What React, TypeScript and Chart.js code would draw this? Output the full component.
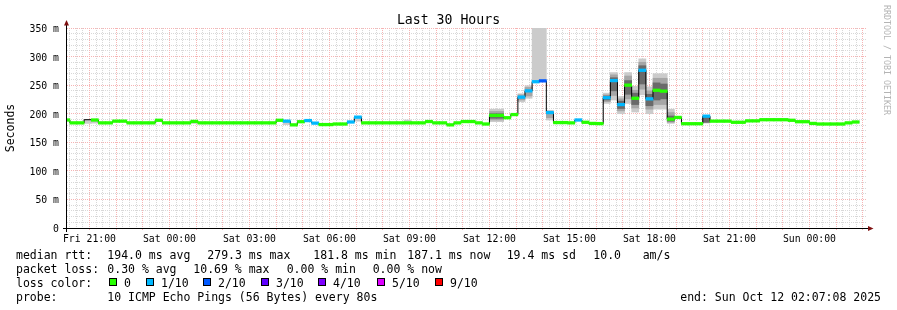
import React, { useEffect, useRef } from 'react';
import { Chart, registerables } from 'chart.js';

Chart.register(...registerables);

// ---------------- data ----------------
const chartTitle = 'Last 30 Hours';
const yAxisTitle = 'Seconds';
const watermark = 'RRDTOOL / TOBI OETIKER';

// x axis: minutes relative to Fri 21:00
const X_MIN = -50.5;
const X_MAX = 1749.5;
const BIN_MINUTES = 16;
const FIRST_BIN_START = -60;

const xTickLabels = ['Fri 21:00', 'Sat 00:00', 'Sat 03:00', 'Sat 06:00', 'Sat 09:00', 'Sat 12:00', 'Sat 15:00', 'Sat 18:00', 'Sat 21:00', 'Sun 00:00'];
const yTickValues = [0, 50, 100, 150, 200, 250, 300, 350];
const yTickLabels = ['0', '50 m', '100 m', '150 m', '200 m', '250 m', '300 m', '350 m'];

// median RTT (ms) per 16-minute bin
const medianRtt: (number | null)[] = [
  189, 184, 184, 189.5, 189, 184, 184, 187, 187, 184,
  184, 184, 184, 188.5, 184, 184, 184, 184, 186.5, 184,
  184, 184, 184, 184, 184, 184, 184, 184, 184, 184,
  188.5, 187, 180.5, 186, 188, 183.5, 181, 181, 182, 182,
  185.5, 194, 184, 184, 184, 184, 184, 184, 184, 184,
  184, 186.3, 184, 184, 180.5, 184, 186.3, 186.3, 184, 182,
  197, 197, 193, 198.5, 229, 240, 256, 257.5, 202, 184.5,
  184.5, 184, 189, 185, 183, 182.7, 228, 258, 216, 250,
  227, 276, 226, 241, 239.5, 190.5, 193.5, 182.5, 182.5, 182.5,
  195.7, 187, 187, 187, 185, 185, 187.5, 187.5, 189.5, 189.5,
  189.5, 189.5, 188.5, 186, 186, 183, 182, 182, 182, 182,
  184, 185.5, null, null,
];

// loss level per bin (index into lossColors), null = no colour band
const lossLevel: (number | null)[] = [
  0, 0, 0, null, 0, 0, 0, 0, 0, 0,
  0, 0, 0, 0, 0, 0, 0, 0, 0, 0,
  0, 0, 0, 0, 0, 0, 0, 0, 0, 0,
  0, 1, 0, 0, 1, 1, 0, 0, 0, 0,
  1, 1, 0, 0, 0, 0, 0, 0, 0, 0,
  0, 0, 0, 0, 0, 0, 0, 0, 0, 0,
  0, 0, 0, 0, 1, 1, 1, 2, 1, 0,
  0, 0, 1, 0, 0, 0, 1, 1, 1, 0,
  0, 1, 1, 0, 0, 0, 0, 0, 0, 0,
  1, 0, 0, 0, 0, 0, 0, 0, 0, 0,
  0, 0, 0, 0, 0, 0, 0, 0, 0, 0,
  0, 0, null, null,
];

const lossColors = ['#26ff00', '#00b8ff', '#0059ff', '#5e00ff', '#7e00ff', '#dd00ff', '#ff0000'];
const lossLabels = ['0', '1/10', '2/10', '3/10', '4/10', '5/10', '9/10'];

// smoke (ping spread), outer / middle / inner layers
const smokeOuterBins = [3, 4, 18, 31, 41, 48, 60, 61, 64, 65, 66, 67, 68, 76, 77, 78, 79, 80, 81, 82, 83, 84, 85, 90];
const smokeOuterLo = [183, 183.5, 183, 181, 187, 184, 186, 186, 221, 227, 256, 256, 189, 218, 224, 200, 218, 203, 233, 200, 208, 208, 183, 184];
const smokeOuterHi = [189.5, 189, 187, 187, 194, 189, 208, 208, 235, 249, 400, 400, 206, 236, 272, 230, 272, 248, 296, 247, 270, 270, 208, 195];

const smokeMidBins = [60, 61, 64, 65, 68, 76, 77, 78, 79, 80, 81, 82, 83, 84, 85, 90];
const smokeMidLo = [189, 189, 224, 231, 193, 221, 232, 205, 226, 210, 243, 208, 216, 216, 185, 184];
const smokeMidHi = [204, 204, 233, 246, 204, 233, 268, 226, 266, 241, 290, 240, 262, 262, 202, 195];

const smokeInnerBins = [60, 61, 76, 77, 78, 79, 80, 81, 82, 83, 84, 85, 90];
const smokeInnerLo = [192, 192, 224, 240, 209, 234, 216, 252, 214, 224, 226, 187, 185];
const smokeInnerHi = [200, 200, 231, 263, 222, 258, 236, 284, 234, 254, 252, 196, 194];

// legend texts
const rttStats = ['median rtt:', '194.0 ms avg', '279.3 ms max', '181.8 ms min', '187.1 ms now', '19.4 ms sd', '10.0', 'am/s'];
const lossStats = ['packet loss:', '0.30 % avg', '10.69 % max', '0.00 % min', '0.00 % now'];
const lossColorTitle = 'loss color:';
const probeInfo = ['probe:', '10 ICMP Echo Pings (56 Bytes) every 80s'];
const endInfo = 'end: Sun Oct 12 02:07:08 2025';

// ---------------- style / layout ----------------
const W = 897;
const H = 310;
const FONT = "'DejaVu Sans Mono', monospace";
const MAJOR = '#f6b4b4';
const MINOR = '#d8d8d8';
const ARROW = '#7f1010';
const BAND_HALF = 2.3; // half height of median band in ms
const rttX = [16, 107.3, 207.3, 313.3, 407.3, 506.7, 593.3, 642.7];
const lossX = [16, 107.3, 193.3, 286.7, 372.7];
const swatchX = [109, 146, 203, 261, 318, 377, 435];
const rowY = [258.5, 272.5, 286.5, 300.5];

const hourTicks: number[] = [];
for (let v = 0; v <= X_MAX; v += 60) hourTicks.push(v);
const quarterTicks: number[] = [];
for (let v = -45; v <= X_MAX; v += 15) quarterTicks.push(v);
const minorYTicks: number[] = [];
for (let v = 0; v <= 350; v += 10) minorYTicks.push(v);

const binStart = (i: number) => FIRST_BIN_START + i * BIN_MINUTES;
const binCenter = (i: number) => binStart(i) + BIN_MINUTES / 2;

const decorPlugin = {
  id: 'rrdDecor',
  afterDraw(chart: any) {
    const ctx = chart.ctx as CanvasRenderingContext2D;
    const a = chart.chartArea;
    ctx.save();
    ctx.setLineDash([]);
    // axes
    ctx.strokeStyle = '#000';
    ctx.lineWidth = 1;
    ctx.beginPath();
    ctx.moveTo(a.left - 4, a.bottom + 0.5);
    ctx.lineTo(a.right + 1, a.bottom + 0.5);
    ctx.moveTo(a.left - 0.5, a.bottom + 4);
    ctx.lineTo(a.left - 0.5, a.top - 3);
    ctx.stroke();
    // arrows
    ctx.fillStyle = ARROW;
    ctx.beginPath();
    ctx.moveTo(a.left - 3, a.top - 2.5);
    ctx.lineTo(a.left + 2, a.top - 2.5);
    ctx.lineTo(a.left - 0.5, a.top - 8);
    ctx.closePath();
    ctx.fill();
    ctx.beginPath();
    ctx.moveTo(a.right + 1, a.bottom - 2);
    ctx.lineTo(a.right + 1, a.bottom + 3);
    ctx.lineTo(a.right + 6.5, a.bottom + 0.5);
    ctx.closePath();
    ctx.fill();

    // title
    ctx.fillStyle = '#000';
    ctx.textBaseline = 'alphabetic';
    ctx.font = `13.2px ${FONT}`;
    ctx.textAlign = 'center';
    ctx.fillText(chartTitle, W / 2, 24);

    // watermark
    ctx.save();
    ctx.translate(884, 5);
    ctx.rotate(Math.PI / 2);
    ctx.font = `8.3px ${FONT}`;
    ctx.fillStyle = '#b4b4b4';
    ctx.textAlign = 'left';
    ctx.textBaseline = 'alphabetic';
    ctx.fillText(watermark, 0, 0);
    ctx.restore();

    // legend
    ctx.font = `11.5px ${FONT}`;
    ctx.textAlign = 'left';
    ctx.fillStyle = '#000';
    rttStats.forEach((t, k) => ctx.fillText(t, rttX[k], rowY[0]));
    lossStats.forEach((t, k) => ctx.fillText(t, lossX[k], rowY[1]));
    ctx.fillText(lossColorTitle, 16, rowY[2]);
    lossLabels.forEach((t, k) => {
      const x = swatchX[k];
      ctx.fillStyle = lossColors[k];
      ctx.fillRect(x, rowY[2] - 8.5, 8, 8);
      ctx.strokeStyle = '#000';
      ctx.strokeRect(x + 0.5, rowY[2] - 8, 7, 7);
      ctx.fillStyle = '#000';
      ctx.fillText(t, x + 15, rowY[2]);
    });
    ctx.fillText(probeInfo[0], 16, rowY[3]);
    ctx.fillText(probeInfo[1], 107.3, rowY[3]);
    ctx.textAlign = 'right';
    ctx.fillText(endInfo, 881, rowY[3]);
    ctx.restore();
  },
};

export default function App() {
  const ref = useRef<HTMLCanvasElement>(null);

  useEffect(() => {
    const canvas = ref.current;
    if (!canvas) return;

    const floatBars = (bins: number[], lo: number[], hi: number[]) =>
      bins.map((b, k) => ({ x: binCenter(b), y: [lo[k], hi[k]] }));

    const bandData: any[] = [];
    const bandColors: string[] = [];
    medianRtt.forEach((m, i) => {
      if (m == null) return;
      bandData.push({ x: binCenter(i), y: [m - BAND_HALF, m + BAND_HALF] });
      const l = lossLevel[i];
      bandColors.push(l == null ? 'rgba(0,0,0,0)' : lossColors[l]);
    });

    const lineData: any[] = [];
    medianRtt.forEach((m, i) => {
      if (m == null) return;
      lineData.push({ x: binStart(i), y: m });
      if (i + 1 >= medianRtt.length || medianRtt[i + 1] == null) {
        lineData.push({ x: binStart(i + 1), y: m });
        lineData.push({ x: binStart(i + 1), y: null });
      }
    });

    const barCommon = {
      type: 'bar' as const,
      grouped: false,
      barPercentage: 1,
      categoryPercentage: 1,
      borderWidth: 0,
      clip: 0,
      xAxisID: 'x',
      yAxisID: 'y',
    };

    const chart = new Chart(canvas, {
      type: 'bar',
      data: {
        datasets: [
          { ...barCommon, label: 'median', data: bandData, backgroundColor: bandColors, order: 0 },
          {
            type: 'line',
            label: 'median line',
            data: lineData,
            stepped: true,
            borderColor: '#000',
            borderWidth: 1,
            pointRadius: 0,
            fill: false,
            spanGaps: false,
            xAxisID: 'x',
            yAxisID: 'y',
            order: 1,
          } as any,
          { ...barCommon, label: 'smoke inner', data: floatBars(smokeInnerBins, smokeInnerLo, smokeInnerHi), backgroundColor: '#6a6a6a', order: 2 },
          { ...barCommon, label: 'smoke mid', data: floatBars(smokeMidBins, smokeMidLo, smokeMidHi), backgroundColor: '#a6a6a6', order: 3 },
          { ...barCommon, label: 'smoke outer', data: floatBars(smokeOuterBins, smokeOuterLo, smokeOuterHi), backgroundColor: '#cbcbcb', order: 4 },
        ] as any,
      },
      options: {
        responsive: false,
        animation: false,
        devicePixelRatio: 1,
        events: [],
        layout: { padding: { left: 0, right: W - 867, top: 28, bottom: 0 } },
        plugins: { legend: { display: false }, tooltip: { enabled: false }, title: { display: false } },
        scales: {
          x: {
            type: 'linear',
            position: 'bottom',
            min: X_MIN,
            max: X_MAX,
            bounds: 'data',
            offset: false,
            afterBuildTicks: (s: any) => { s.ticks = hourTicks.map((v) => ({ value: v })); },
            afterFit: (s: any) => { s.height = H - 228; s.paddingLeft = 0; s.paddingRight = 0; },
            grid: { color: MAJOR, lineWidth: 1, drawTicks: true, tickLength: 2, tickColor: MAJOR, offset: false, z: -1 },
            border: { display: false, dash: [1, 1] },
            ticks: {
              autoSkip: false,
              maxRotation: 0,
              minRotation: 0,
              padding: 4,
              color: '#000',
              font: { family: FONT, size: 9.8 },
              callback: (v: any) => (Number(v) % 180 === 0 ? xTickLabels[Number(v) / 180] : ''),
            },
          },
          xMinor: {
            type: 'linear',
            position: 'top',
            min: X_MIN,
            max: X_MAX,
            bounds: 'data',
            offset: false,
            afterBuildTicks: (s: any) => { s.ticks = quarterTicks.map((v) => ({ value: v })); },
            afterFit: (s: any) => { s.height = 0; s.paddingLeft = 0; s.paddingRight = 0; },
            grid: { color: MINOR, lineWidth: 1, drawTicks: false, offset: false, z: -2 },
            border: { display: false, dash: [1, 1] },
            ticks: { display: false, autoSkip: false },
          },
          y: {
            type: 'linear',
            position: 'left',
            min: 0,
            max: 350,
            bounds: 'data',
            afterBuildTicks: (s: any) => { s.ticks = yTickValues.map((v) => ({ value: v })); },
            afterFit: (s: any) => { s.width = 67; s.paddingTop = 0; s.paddingBottom = 0; },
            grid: { color: MAJOR, lineWidth: 1, drawTicks: false, z: -1 },
            border: { display: false, dash: [1, 1] },
            ticks: {
              autoSkip: false,
              padding: 8,
              labelOffset: 1.5,
              color: '#000',
              font: { family: FONT, size: 9.8 },
              callback: (_v: any, idx: number) => yTickLabels[idx],
            },
            title: { display: true, text: yAxisTitle, color: '#000', font: { family: FONT, size: 11.5 }, padding: { top: 4, bottom: 4 } },
          },
          yMinor: {
            type: 'linear',
            position: 'right',
            min: 0,
            max: 350,
            bounds: 'data',
            afterBuildTicks: (s: any) => { s.ticks = minorYTicks.map((v) => ({ value: v })); },
            afterFit: (s: any) => { s.width = 0; s.paddingTop = 0; s.paddingBottom = 0; },
            grid: { color: MINOR, lineWidth: 1, drawTicks: false, z: -2 },
            border: { display: false, dash: [1, 1] },
            ticks: { display: false, autoSkip: false },
          },
        } as any,
      },
      plugins: [decorPlugin],
    });

    return () => chart.destroy();
  }, []);

  return (
    <div style={{ position: 'fixed', left: 0, top: 0, width: W, height: H, background: '#fff' }}>
      <canvas ref={ref} width={W} height={H} style={{ display: 'block', width: W, height: H }} />
    </div>
  );
}
